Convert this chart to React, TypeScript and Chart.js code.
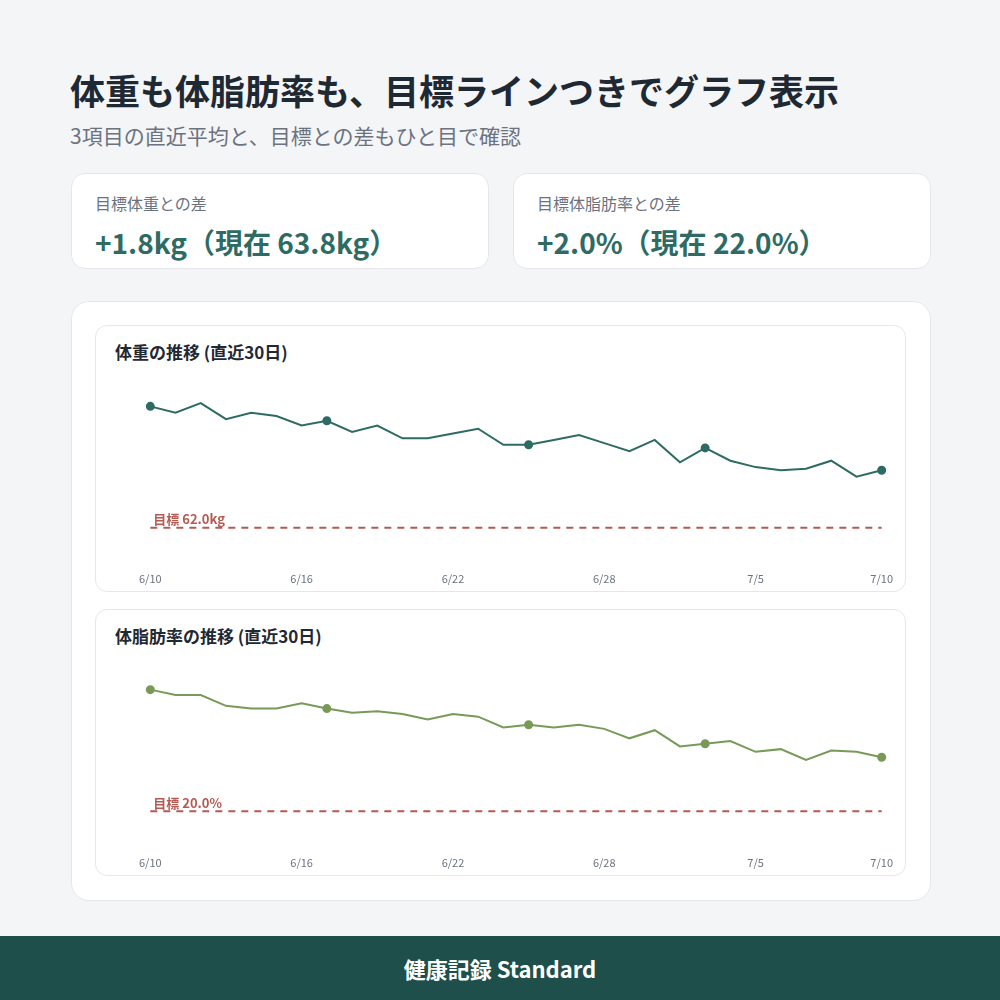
import React, { useEffect, useRef } from 'react';
import { Chart, registerables } from 'chart.js';

Chart.register(...registerables);

// 直近30日の記録（7/1 は未記録）
const dates = [
  '6/10', '6/11', '6/12', '6/13', '6/14', '6/15', '6/16', '6/17', '6/18', '6/19',
  '6/20', '6/21', '6/22', '6/23', '6/24', '6/25', '6/26', '6/27', '6/28', '6/29',
  '6/30', '7/2', '7/3', '7/4', '7/5', '7/6', '7/7', '7/8', '7/9', '7/10',
];
const weightKg = [
  65.8, 65.6, 65.9, 65.4, 65.6, 65.5, 65.2, 65.35, 65.0, 65.2,
  64.8, 64.8, 64.95, 65.1, 64.6, 64.6, 64.75, 64.9, 64.65, 64.4,
  64.75, 64.05, 64.5, 64.1, 63.9, 63.8, 63.85, 64.1, 63.6, 63.8,
];
const bodyFatPct = [
  24.5, 24.3, 24.3, 23.9, 23.8, 23.8, 24.0, 23.8, 23.65, 23.7,
  23.6, 23.4, 23.6, 23.5, 23.1, 23.2, 23.1, 23.2, 23.05, 22.7,
  23.0, 22.4, 22.5, 22.6, 22.2, 22.3, 21.9, 22.25, 22.2, 22.0,
];
const tickIndices = [0, 6, 12, 18, 24, 29];
const markerIndices = [0, 7, 15, 22, 29];
const weightTarget = 62.0;
const fatTarget = 20.0;

const FONT = '"Noto Sans CJK JP", "Noto Sans", sans-serif';
const TARGET_COLOR = '#b45a50';

Chart.defaults.font.family = FONT;

const targetLabelPlugin = {
  id: 'targetLabel',
  afterDatasetsDraw(chart: any, _args: any, opts: any) {
    const { ctx, chartArea, scales } = chart;
    const y = scales.y.getPixelForValue(opts.value);
    ctx.save();
    ctx.font = `bold 13px ${FONT}`;
    ctx.fillStyle = TARGET_COLOR;
    ctx.textBaseline = 'bottom';
    ctx.fillText(opts.text, chartArea.left + 3, y - 2);
    ctx.restore();
  },
};

interface TrendProps {
  title: string;
  values: number[];
  target: number;
  targetText: string;
  color: string;
  min: number;
  max: number;
  top: number;
}

const TrendCard: React.FC<TrendProps> = ({ title, values, target, targetText, color, min, max, top }) => {
  const canvasRef = useRef<HTMLCanvasElement>(null);

  useEffect(() => {
    if (!canvasRef.current) return;
    const chart = new Chart(canvasRef.current, {
      type: 'line',
      data: {
        labels: dates,
        datasets: [
          {
            data: values,
            borderColor: color,
            backgroundColor: color,
            borderWidth: 2,
            tension: 0,
            pointRadius: values.map((_, i) => (markerIndices.includes(i) ? 3.5 : 0)),
            pointHoverRadius: 0,
            order: 1,
          },
          {
            data: dates.map(() => target),
            borderColor: TARGET_COLOR,
            borderWidth: 2,
            borderDash: [7, 6],
            pointRadius: 0,
            order: 2,
          },
        ],
      },
      options: {
        animation: false,
        responsive: true,
        maintainAspectRatio: false,
        layout: { padding: { top: 13, left: 0, right: 0, bottom: 0 } },
        plugins: {
          legend: { display: false },
          tooltip: { enabled: false },
          // @ts-ignore
          targetLabel: { value: target, text: targetText },
        },
        scales: {
          x: {
            grid: { display: false, drawTicks: false },
            border: { display: false },
            ticks: {
              autoSkip: false,
              maxRotation: 0,
              padding: 12,
              color: '#6b7280',
              font: { size: 11 },
              callback: (_v: any, i: number) => (tickIndices.includes(i) ? dates[i] : ''),
            },
          },
          y: { display: false, min, max },
        },
      },
      plugins: [targetLabelPlugin],
    });
    return () => chart.destroy();
  }, []);

  return (
    <div
      style={{
        position: 'absolute', left: 95, top, width: 811, height: 267, boxSizing: 'border-box',
        border: '1px solid #e5e7eb', borderRadius: 12, background: '#fff',
      }}
    >
      <div style={{ position: 'absolute', left: 19, top: 13, fontSize: 17, fontWeight: 700, color: '#1f2933', lineHeight: '26px', whiteSpace: 'nowrap' }}>
        {title}
      </div>
      <div style={{ position: 'absolute', left: 31, top: 45, width: 778, height: 226 }}>
        <canvas ref={canvasRef}></canvas>
      </div>
    </div>
  );
};

const StatCard: React.FC<{ left: number; label: string; value: string }> = ({ left, label, value }) => (
  <div
    style={{
      position: 'absolute', left, top: 173, width: 418, height: 96, boxSizing: 'border-box',
      border: '1px solid #e5e7eb', borderRadius: 14, background: '#fff',
    }}
  >
    <div style={{ position: 'absolute', left: 23, top: 17, fontSize: 16, color: '#6b7280', lineHeight: '24px', whiteSpace: 'nowrap' }}>{label}</div>
    <div style={{ position: 'absolute', left: 23, top: 49, fontSize: 28, fontWeight: 700, color: '#2e6b64', lineHeight: '38px', whiteSpace: 'nowrap' }}>{value}</div>
  </div>
);

const App: React.FC = () => {
  return (
    <div
      style={{
        position: 'absolute', left: 0, top: 0, width: 1000, height: 1000, background: '#f4f5f7',
        fontFamily: FONT, overflow: 'hidden',
      }}
    >
      <div style={{ position: 'absolute', left: 70, top: 66, fontSize: 35, fontWeight: 700, color: '#1f2933', lineHeight: '48px', whiteSpace: 'nowrap' }}>
        体重も体脂肪率も、目標ラインつきでグラフ表示
      </div>
      <div style={{ position: 'absolute', left: 70, top: 121, fontSize: 21, color: '#6b7280', lineHeight: '28px', whiteSpace: 'nowrap' }}>
        3項目の直近平均と、目標との差もひと目で確認
      </div>

      <StatCard left={71} label="目標体重との差" value="+1.8kg（現在 63.8kg）" />
      <StatCard left={513} label="目標体脂肪率との差" value="+2.0%（現在 22.0%）" />

      <div
        style={{
          position: 'absolute', left: 71, top: 301, width: 860, height: 600, boxSizing: 'border-box',
          border: '1px solid #e5e7eb', borderRadius: 18, background: '#fff',
        }}
      />
      <TrendCard
        title="体重の推移 (直近30日)"
        values={weightKg}
        target={weightTarget}
        targetText="目標 62.0kg"
        color="#2e6b64"
        min={61}
        max={66.5}
        top={325}
      />
      <TrendCard
        title="体脂肪率の推移 (直近30日)"
        values={bodyFatPct}
        target={fatTarget}
        targetText="目標 20.0%"
        color="#789a58"
        min={18.8}
        max={25.3}
        top={609}
      />

      <div
        style={{
          position: 'absolute', left: 0, top: 936, width: 1000, height: 64, background: '#1f4f4b',
          color: '#fff', fontSize: 22, fontWeight: 700, display: 'flex', alignItems: 'center', justifyContent: 'center',
        }}
      >
        健康記録 Standard
      </div>
    </div>
  );
};

export default App;
